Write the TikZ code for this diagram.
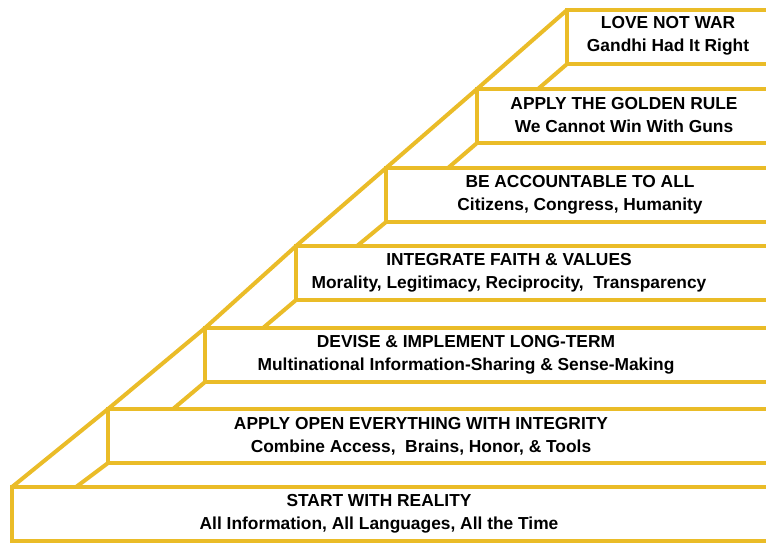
\documentclass[tikz,border=0pt]{standalone}
\usepackage{fontspec}
\setmainfont{Liberation Sans}
\usepackage{tikz}
\usetikzlibrary{positioning}
\usetikzlibrary{calc}

\definecolor{stepgold}{RGB}{234,188,40}

\begin{document}
\begin{tikzpicture}
    [x=0.025cm, y=-0.025cm,
    steprect/.style={draw=stepgold, line width=0.1cm, fill=white, anchor=north west, outer sep=0pt, inner sep=0pt, minimum width=20cm, minimum height=1.35cm},
    steptext/.style={align=center, inner sep=0pt, font=\bfseries\fontsize{12.35}{16.3}\selectfont},
    stepline/.style={stepgold, line width=0.1cm}]

    \useasboundingbox (0,0) rectangle (766,542);
    \clip (0,0) rectangle (766,542);

    % the steps, bottom to top
    \node[steprect] (b1) at (12,487) {};
    \node[steprect] (b2) at (108,409) {};
    \node[steprect] (b3) at (205,328) {};
    \node[steprect] (b4) at (296,246) {};
    \node[steprect] (b5) at (386,168) {};
    \node[steprect] (b6) at (477,89) {};
    \node[steprect] (b7) at (567,10) {};

    \node[steptext] (t1) at (379,514) {START WITH REALITY \\ All Information, All Languages, All the Time};
    \node[steptext] (t2) at (421,436) {APPLY OPEN EVERYTHING WITH INTEGRITY \\ Combine Access,\ \ Brains, Honor, \& Tools};
    \node[steptext] (t3) at (466,355) {DEVISE \& IMPLEMENT LONG-TERM \\ Multinational Information-Sharing \& Sense-Making};
    \node[steptext] (t4) at (509,273) {INTEGRATE FAITH \& VALUES \\ Morality, Legitimacy, Reciprocity,\ \ Transparency};
    \node[steptext] (t5) at (580,195) {BE ACCOUNTABLE TO ALL \\ Citizens, Congress, Humanity};
    \node[steptext] (t6) at (624,115) {APPLY THE GOLDEN RULE \\ We Cannot Win With Guns};
    \node[steptext] (t7) at (668,36) {LOVE NOT WAR \\ Gandhi Had It Right};

    % outer edge
    \draw[stepline] (b1.north west) -- (b2.north west) -- (b3.north west) -- (b4.north west)
        -- (b5.north west) -- (b6.north west) -- (b7.north west);

    % inner edges
    \coordinate (s2) at (76,487);
    \coordinate (s3) at (173,409);
    \coordinate (s4) at (263,328);
    \coordinate (s5) at (357,246);
    \coordinate (s6) at (448,168);
    \coordinate (s7) at (538,89);
    \draw[stepline] (s2) -- (b2.south west);
    \draw[stepline] (s3) -- (b3.south west);
    \draw[stepline] (s4) -- (b4.south west);
    \draw[stepline] (s5) -- (b5.south west);
    \draw[stepline] (s6) -- (b6.south west);
    \draw[stepline] (s7) -- (b7.south west);
\end{tikzpicture}
\end{document}
